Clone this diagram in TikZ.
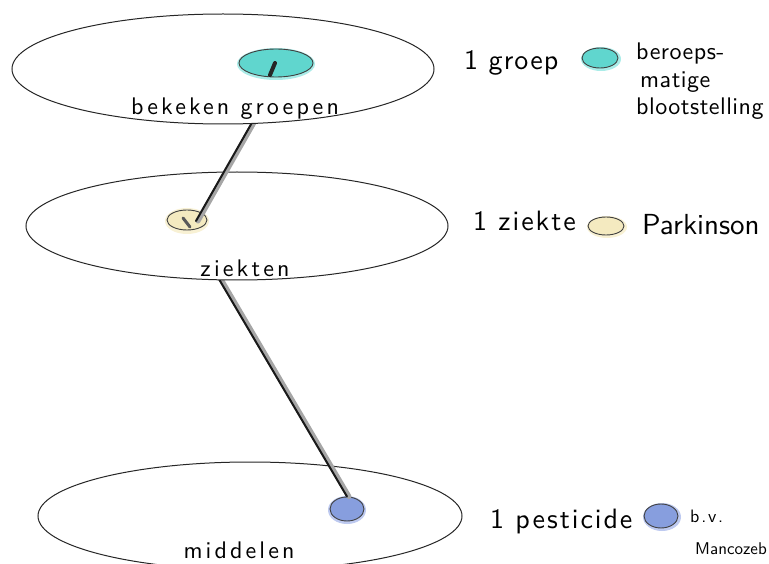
\documentclass[tikz,border=0pt]{standalone}
\usepackage{fontspec}
\newfontfamily\hand{lmsans10-regular.otf}
\usetikzlibrary{shapes.geometric}
\definecolor{cyanfill}{RGB}{96,214,206}
\definecolor{cyanhalo}{RGB}{170,236,232}
\definecolor{yelfill}{RGB}{244,234,192}
\definecolor{yelhalo}{RGB}{248,241,212}
\definecolor{bluefill}{RGB}{135,158,222}
\definecolor{bluehalo}{RGB}{190,202,240}
\begin{document}
\begin{tikzpicture}[x=1pt,y=-1pt,
  plane/.style={ellipse, draw=black!85, line width=1pt, fill=white, inner sep=0pt},
  dot/.style={ellipse, draw=black!75, line width=0.9pt, inner sep=0pt},
  lbl/.style={font=\hand\fontsize{24}{24}\selectfont\addfontfeature{LetterSpace=13}, inner sep=0pt, anchor=base},
  txt/.style 2 args={font=\hand\fontsize{#1}{#1}\selectfont\addfontfeature{LetterSpace=#2}, inner sep=0pt, anchor=base west},
  shade/.style={line width=5pt, draw=black!35, line cap=round},
  link/.style={line width=2pt, draw=black!90, line cap=round}
]
\useasboundingbox (0,0) rectangle (769,564);
\clip (0,0) rectangle (769,564);

% bottom plane
\node[plane, minimum width=424, minimum height=108] (p3) at (250,516) {};
\node[lbl] (l3) at (239,558) {middelen};
\coordinate (c2top) at (203,252);
\node[ellipse, fill=bluehalo, minimum width=38, minimum height=28, inner sep=0pt] (h3) at (347,510) {};
\node[dot, fill=bluefill, minimum width=34, minimum height=24] (d3) at (347,509) {};
\draw[shade] ([xshift=2pt]c2top) -- ([xshift=2pt]d3.north);
\draw[link] (c2top) -- (d3.north);

% middle plane
\node[plane, minimum width=422, minimum height=108] (p2) at (237,226) {};
\node[lbl] (l2) at (245,277) {ziekten};
\node[ellipse, fill=yelhalo, minimum width=44, minimum height=26, inner sep=0pt] (h2) at (187,221) {};
\node[dot, fill=yelfill, minimum width=40, minimum height=20] (d2) at (187,220) {};
\coordinate (c1bot) at (196,221);
\coordinate (c1top) at (262,105);
\coordinate (s2a) at (183,218);
\coordinate (s2b) at (190,227);
\draw[line width=3pt, draw=black!65, line cap=round] (s2a) -- (s2b);
\draw[shade] ([xshift=2pt]c1bot) -- ([xshift=2pt]c1top);
\draw[link] (c1bot) -- (c1top);

% top plane
\node[plane, minimum width=422, minimum height=110] (p1) at (223,69) {};
\node[lbl] (l1) at (235,115) {bekeken groepen};
\node[ellipse, fill=cyanhalo, minimum width=78, minimum height=32, inner sep=0pt] (h1) at (276,64) {};
\node[dot, fill=cyanfill, minimum width=74, minimum height=28] (d1) at (276,63) {};
\coordinate (s1a) at (270,75);
\coordinate (s1b) at (275,63);
\draw[line width=4pt, draw=black!85, line cap=round] (s1a) -- (s1b);

% legend: groep
\node[txt={28}{4}] (t1) at (464,70) {1 groep};
\node[ellipse, fill=cyanhalo, minimum width=40, minimum height=24, inner sep=0pt] (lh1) at (601,59) {};
\node[dot, fill=cyanfill, minimum width=36, minimum height=20] (ld1) at (600,58) {};
\node[txt={24}{2}] (t1a) at (636,60) {beroeps-};
\node[txt={24}{2}] (t1b) at (640,88) {matige};
\node[txt={24}{2}] (t1c) at (636,115) {blootstelling};

% legend: ziekte
\node[txt={28}{7}] (t2) at (473,231) {1 ziekte};
\node[ellipse, fill=yelhalo, minimum width=40, minimum height=22, inner sep=0pt] (lh2) at (607,227) {};
\node[dot, fill=yelfill, minimum width=36, minimum height=18] (ld2) at (606,226) {};
\node[txt={29}{0}] (t2a) at (642,235) {Parkinson};

% legend: pesticide
\node[txt={28}{7}] (t3) at (490,528) {1 pesticide};
\node[ellipse, fill=bluehalo, minimum width=38, minimum height=28, inner sep=0pt] (lh3) at (662,517) {};
\node[dot, fill=bluefill, minimum width=34, minimum height=24] (ld3) at (661,516) {};
\node[txt={18}{10}] (t3a) at (690,522) {b.v.};
\node[txt={17}{0}] (t3b) at (695,554) {Mancozeb};
\end{tikzpicture}
\end{document}
